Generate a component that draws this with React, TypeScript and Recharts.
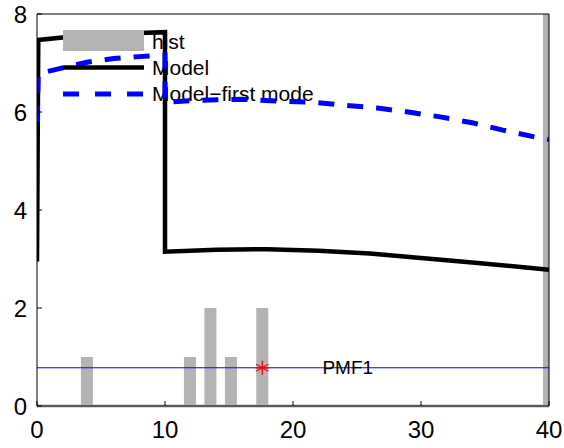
import React from 'react'
import {
  ComposedChart,
  Bar,
  Line,
  Scatter,
  XAxis,
  YAxis,
  ReferenceLine,
} from 'recharts'

const X_TICKS = [0, 10, 20, 30, 40]
const Y_TICKS = [0, 2, 4, 6, 8]

// histogram bins (centre, count)
const HIST_X = [3.9, 11.95, 13.55, 15.15, 17.6, 40]
const HIST_COUNT = [1, 1, 2, 1, 2, 9]
const HIST_BAR_PX = 12

const MODEL_X = [0, 0.1, 2, 4, 6, 8, 10, 10, 14, 18, 22, 26, 30, 34, 38, 40]
const MODEL_Y = [2.95, 7.47, 7.52, 7.56, 7.59, 7.61, 7.63, 3.15, 3.19, 3.2, 3.17, 3.11, 3.02, 2.93, 2.83, 2.78]

const MODE_X = [0, 0.1, 2, 4, 6, 8, 10, 10, 12.7, 16, 19, 21.6, 24, 26.6, 29, 31.5, 34, 36.4, 38.9, 40]
const MODE_Y = [5.8, 6.78, 6.9, 7.02, 7.09, 7.13, 7.16, 6.2, 6.24, 6.26, 6.22, 6.2, 6.14, 6.08, 6.0, 5.9, 5.78, 5.63, 5.49, 5.44]

const PMF_LEVEL = 0.78
const PMF_PEAK = [{ x: 17.6, y: PMF_LEVEL }]
const PMF_LABEL = [{ x: 22.3, y: PMF_LEVEL, text: 'PMF1' }]

const LEGEND = ['hist', 'Model', 'Model\u2212first mode']

const GRAY = '#b3b3b3'
const BLUE = '#0000ff'
const FONT = '"Liberation Sans", Arial, Helvetica, sans-serif'

const histData = HIST_X.map((x, i) => ({ x, count: HIST_COUNT[i] }))
const modelData = MODEL_X.map((x, i) => ({ x, y: MODEL_Y[i] }))
const modeData = MODE_X.map((x, i) => ({ x, y: MODE_Y[i] }))

// bars on a numeric axis get a tiny band (the lines have repeated x), so widen them here
const HistBar = (props: any) => {
  const { x, y, width, height } = props
  if (!height) return null
  const cx = x + width / 2
  return <rect x={cx - HIST_BAR_PX / 2} y={y} width={HIST_BAR_PX} height={height} fill={GRAY} />
}

const Asterisk = (props: any) => {
  const { cx, cy } = props
  const r = 7
  const lines = [0, 60, 120].map((a) => {
    const rad = (a * Math.PI) / 180
    return (
      <line
        key={a}
        x1={cx - r * Math.sin(rad)}
        y1={cy - r * Math.cos(rad)}
        x2={cx + r * Math.sin(rad)}
        y2={cy + r * Math.cos(rad)}
      />
    )
  })
  return (
    <g stroke="#ff0000" strokeWidth={1.3}>
      {lines}
      <line x1={cx - r} y1={cy} x2={cx + r} y2={cy} />
    </g>
  )
}

const PmfText = (props: any) => {
  const { cx, cy, payload } = props
  return (
    <text x={cx} y={cy} dy="0.35em" fontSize={19} fontFamily={FONT} fill="#000">
      {payload.text}
    </text>
  )
}

const tickStyle = { fontSize: 24, fill: '#000', fontFamily: FONT }

export default function App() {
  return (
    <div style={{ position: 'absolute', left: 0, top: 0, width: 564, height: 448, background: '#fff' }}>
      {/* legend labels sit under the curves */}
      <svg width={564} height={448} style={{ position: 'absolute', left: 0, top: 0 }}>
        {LEGEND.map((label, i) => (
          <text key={label} x={152} y={49 + i * 26} fontSize={21} fontFamily={FONT} fill="#000">
            {label}
          </text>
        ))}
      </svg>
      <div style={{ position: 'absolute', left: 0, top: 0 }}>
        <ComposedChart
          width={564}
          height={448}
          data={histData}
          margin={{ top: 0, right: 0, bottom: 0, left: 0 }}
        >
          <XAxis
            dataKey="x"
            type="number"
            domain={[0, 40]}
            ticks={X_TICKS}
            allowDataOverflow
            height={42}
            tickSize={-5}
            tickMargin={20}
            tick={tickStyle}
            axisLine={{ stroke: '#000' }}
            tickLine={{ stroke: '#000' }}
          />
          <XAxis
            xAxisId="top"
            orientation="top"
            type="number"
            domain={[0, 40]}
            ticks={X_TICKS}
            allowDataOverflow
            tickSize={-5}
            tick={false}
            height={14}
            axisLine={{ stroke: '#000' }}
            tickLine={{ stroke: '#000' }}
          />
          <YAxis
            type="number"
            domain={[0, 8]}
            ticks={Y_TICKS}
            allowDataOverflow
            width={37}
            tickSize={-5}
            tickMargin={15}
            tick={tickStyle}
            axisLine={{ stroke: '#000' }}
            tickLine={{ stroke: '#000' }}
          />
          <YAxis
            yAxisId="right"
            orientation="right"
            type="number"
            domain={[0, 8]}
            ticks={Y_TICKS}
            allowDataOverflow
            width={15}
            tickSize={-5}
            tick={false}
            axisLine={{ stroke: '#000' }}
            tickLine={{ stroke: '#000' }}
          />
          <Bar dataKey="count" fill={GRAY} shape={<HistBar />} isAnimationActive={false} />
          <ReferenceLine y={0} stroke={GRAY} strokeWidth={3} />
          <ReferenceLine y={PMF_LEVEL} stroke={BLUE} strokeWidth={1} />
          <Line
            data={modelData}
            dataKey="y"
            stroke="#000"
            strokeWidth={4.5}
            dot={false}
            type="linear"
            isAnimationActive={false}
          />
          <Line
            data={modeData}
            dataKey="y"
            stroke={BLUE}
            strokeWidth={5}
            strokeDasharray="16 13"
            dot={false}
            type="linear"
            isAnimationActive={false}
          />
          <Scatter data={PMF_PEAK} dataKey="y" shape={<Asterisk />} isAnimationActive={false} />
          <Scatter data={PMF_LABEL} dataKey="y" shape={<PmfText />} isAnimationActive={false} />
        </ComposedChart>
      </div>
      {/* legend symbols drawn on top */}
      <svg width={564} height={448} style={{ position: 'absolute', left: 0, top: 0, pointerEvents: 'none' }}>
        <rect x={63} y={30} width={81} height={21} fill={GRAY} />
        <line x1={63} y1={67.5} x2={144} y2={67.5} stroke="#000" strokeWidth={4.5} />
        <line x1={63} y1={94} x2={144} y2={94} stroke={BLUE} strokeWidth={5} strokeDasharray="16 16" />
      </svg>
    </div>
  )
}
